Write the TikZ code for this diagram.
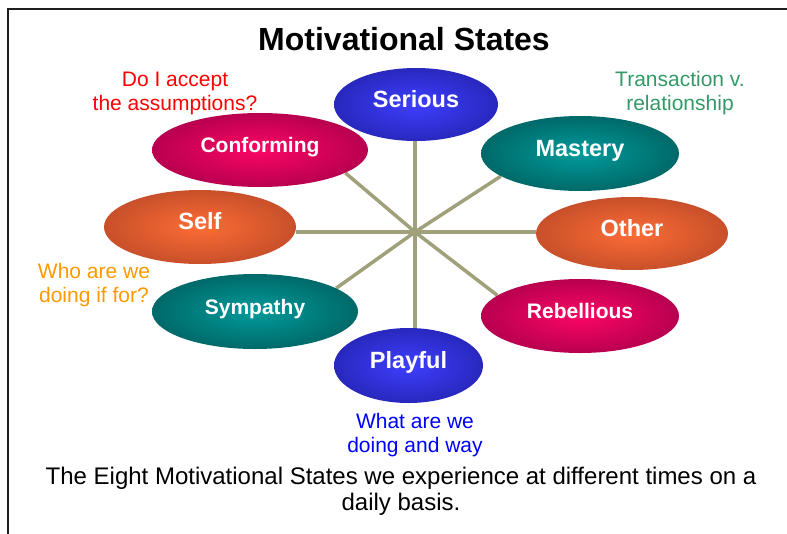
\documentclass[tikz,border=0pt]{standalone}
\usepackage{fontspec}
\setmainfont{Liberation Sans}
\usetikzlibrary{backgrounds,shapes.geometric}
\definecolor{blueI}{RGB}{62,62,255}
\definecolor{blueO}{RGB}{40,40,190}
\definecolor{crimI}{RGB}{250,6,100}
\definecolor{crimO}{RGB}{185,0,80}
\definecolor{tealI}{RGB}{0,155,155}
\definecolor{tealO}{RGB}{0,105,105}
\definecolor{oranI}{RGB}{252,108,54}
\definecolor{oranO}{RGB}{200,80,42}
\definecolor{spoke}{RGB}{160,160,122}
\definecolor{noteRed}{RGB}{255,0,0}
\definecolor{noteGreen}{RGB}{51,153,102}
\definecolor{noteOrange}{RGB}{255,153,0}
\definecolor{noteBlue}{RGB}{0,0,255}
\definecolor{frameCol}{RGB}{30,30,30}
\begin{document}
\begin{tikzpicture}[x=1pt,y=-1pt,
  state/.style={ellipse, inner sep=0pt, text=white, text height=12pt, text depth=7pt},
  big/.style={font=\bfseries\fontsize{23.5}{25}\selectfont},
  small/.style={font=\bfseries\fontsize{21}{23}\selectfont},
  bluest/.style={state, inner color=blueI, outer color=blueO},
  crimst/.style={state, inner color=crimI, outer color=crimO},
  tealst/.style={state, inner color=tealI, outer color=tealO},
  oranst/.style={state, inner color=oranI, outer color=oranO},
  spokeline/.style={draw=spoke, line width=3.5pt},
  note/.style={align=center, anchor=base, font=\fontsize{21}{23.5}\selectfont},
  frameline/.style={draw=frameCol, line width=2pt}
]
\useasboundingbox (0,0) rectangle (787,533);
\coordinate (ftop) at (787,9);
\coordinate (fcorner) at (8,9);
\coordinate (fbot) at (8,534);
\draw[frameline] (ftop) -- (fcorner) -- (fbot);

\node[font=\bfseries\fontsize{32}{38}\selectfont, anchor=base] (title) at (404,50) {Motivational States};

\coordinate (hub) at (415,232);

\node[bluest, big, minimum width=164pt, minimum height=73pt] (ser) at (416,104.5) {Serious};
\node[crimst, small, minimum width=216pt, minimum height=74pt] (conf) at (260,150) {Conforming};
\node[tealst, big, minimum width=198pt, minimum height=75pt] (mas) at (580,153.5) {Mastery};
\node[oranst, big, minimum width=192pt, minimum height=74pt] (self) at (200,227) {Self};
\node[oranst, big, minimum width=192pt, minimum height=73pt] (oth) at (632,233.5) {Other};
\node[tealst, small, minimum width=206pt, minimum height=75pt] (sym) at (255,311.5) {Sympathy};
\node[crimst, small, minimum width=198pt, minimum height=74pt] (reb) at (580,316) {Rebellious};
\node[bluest, big, minimum width=149pt, minimum height=75pt] (play) at (408.5,365.5) {Playful};

\begin{scope}[on background layer]
\draw[spokeline] (hub) -- (hub |- ser.south);
\draw[spokeline] (hub) -- (hub |- play.north);
\draw[spokeline] (hub) -- (hub -| self.east);
\draw[spokeline] (hub) -- (hub -| oth.west);
\draw[spokeline] (hub) -- (conf.-15);
\draw[spokeline] (hub) -- (mas.196);
\draw[spokeline] (hub) -- (sym.16);
\draw[spokeline] (hub) -- (reb.166);
\end{scope}

\node[note, text=noteRed] (n1) at (175,110) {Do I accept\\the assumptions?};
\node[note, text=noteGreen] (n2) at (680,110) {Transaction v.\\relationship};
\node[note, text=noteOrange] (n3) at (94,302) {Who are we\\doing if for?};
\node[note, text=noteBlue] (n4) at (415,452) {What are we\\doing and way};

\node[align=center, anchor=base, font=\fontsize{24}{26}\selectfont] (cap) at (401,510)
  {The Eight Motivational States we experience at different times on a\\daily basis.};
\end{tikzpicture}
\end{document}
